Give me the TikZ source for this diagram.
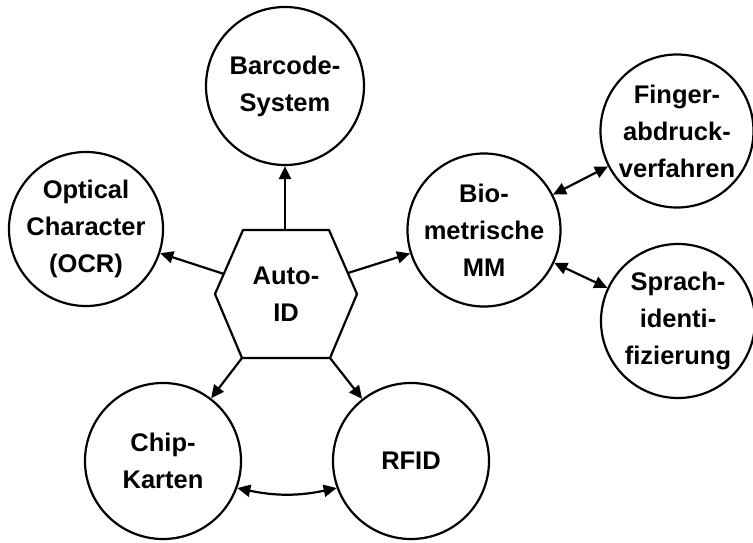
\documentclass[tikz,border=0pt]{standalone}
\usepackage{fontspec}
\setmainfont{Liberation Sans}
\usetikzlibrary{arrows.meta}
\begin{document}
\begin{tikzpicture}[x=1pt,y=-1pt, line width=2.2pt,
  txt/.style={align=center, font=\fontsize{25.5}{37}\selectfont\bfseries},
  circ/.style={draw, circle, minimum size=#1, inner sep=0pt, txt},
  tip/.style={Triangle[length=13pt,width=12pt]},
  arr/.style={-{Triangle[length=13pt,width=12pt]}},
  darr/.style={{Triangle[length=13pt,width=12pt]}-{Triangle[length=13pt,width=12pt]}}]
\useasboundingbox (0,0) rectangle (753,543);
% circles
\node[circ=158] (bar) at (285,86) {Barcode-\\System};
\node[circ=154] (ocr) at (86,229) {Optical\\Character\\(OCR)};
\node[circ=153] (bio) at (484,230) {Bio-\\metrische\\MM};
\node[circ=153] (fin) at (677,131) {Finger-\\abdruck-\\verfahren};
\node[circ=154] (spr) at (678,321) {Sprach-\\identi-\\fizierung};
\node[circ=156] (chip) at (163,461) {Chip-\\Karten};
\node[circ=156] (rfid) at (411,461) {RFID};
% hexagon
\coordinate (h1) at (243,230);
\coordinate (h2) at (329,230);
\coordinate (h3) at (357,294);
\coordinate (h4) at (330,358);
\coordinate (h5) at (242,358);
\coordinate (h6) at (215,294);
\draw (h1) -- (h2) -- (h3) -- (h4) -- (h5) -- (h6) -- cycle;
\node[txt] (auto) at (286,294) {Auto-\\ID};
\coordinate (htop) at (285,230);
\coordinate (hl) at (224,274);
\coordinate (hr) at (348,273);
% connectors
\draw[arr] (htop) -- (bar.south);
\draw[arr] (hl) -- (ocr);
\draw[arr] (hr) -- (bio);
\draw[arr] (h5) -- (chip);
\draw[arr] (h4) -- (rfid);
\draw[darr] (bio) -- (fin);
\draw[darr] (bio) -- (spr);
\draw[darr] (chip.-20) to[bend right=12] (rfid.200);
\end{tikzpicture}
\end{document}
